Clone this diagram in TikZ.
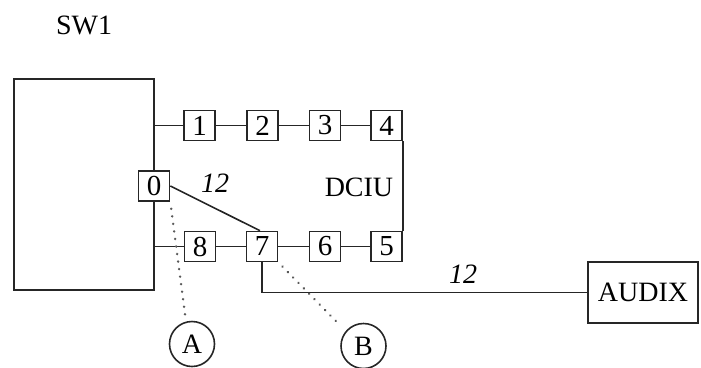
\documentclass[tikz,border=0pt]{standalone}
\usepackage{fontspec}
\setmainfont{Liberation Serif}
\begin{document}
\begin{tikzpicture}[x=1pt,y=-1pt,
  ln/.style={line width=1.6pt, draw=black!85},
  port/.style={ln, draw, fill=white, minimum width=31pt, minimum height=30pt, inner sep=0pt, font=\fontsize{29}{31}\selectfont},
  lbl/.style={font=\fontsize{28}{30}\selectfont, inner sep=0pt},
  dotl/.style={line width=2.6pt, draw=black!65, dash pattern=on 0.1pt off 7.5pt, line cap=round},
  circ/.style={ln, draw, circle, minimum size=45pt, inner sep=0pt, font=\fontsize{28}{30}\selectfont}]
\path[use as bounding box] (0,0) rectangle (701,367);
\node[lbl] (sw1) at (84,25) {SW1};
\node[ln, draw, minimum width=140pt, minimum height=211pt, inner sep=0pt] (sw) at (84,184.5) {};
\node[port] (b1) at (199.5,125.5) {1};
\node[port] (b2) at (262.5,125.5) {2};
\node[port] (b3) at (325,125.5) {3};
\node[port] (b4) at (386.5,125.5) {4};
\node[port] (b0) at (154,186) {0};
\node[port] (b8) at (200,246.5) {8};
\node[port] (b7) at (262,246.5) {7};
\node[port] (b6) at (325,246.5) {6};
\node[port] (b5) at (386.5,246.5) {5};
\node[ln, draw, minimum width=110pt, minimum height=61pt, inner sep=0pt, font=\fontsize{28}{30}\selectfont] (audix) at (643,292.5) {AUDIX};
\node[circ] (A) at (192,344) {A};
\node[circ] (B) at (363.5,346) {B};
\node[lbl] (dciu) at (359,187) {DCIU};
\node[lbl, font=\fontsize{28}{30}\itshape] (l12a) at (215,183) {12};
\node[lbl, font=\fontsize{28}{30}\itshape] (l12b) at (463,274) {12};
\draw[ln] (sw.east |- b1) -- (b1);
\draw[ln] (b1) -- (b2);
\draw[ln] (b2) -- (b3);
\draw[ln] (b3) -- (b4);
\draw[ln] (b4.south east) -- (b5.north east);
\draw[ln] (b5) -- (b6);
\draw[ln] (b6) -- (b7);
\draw[ln] (b7) -- (b8);
\draw[ln] (sw.east |- b8) -- (b8);
\draw[ln] (b0.east) -- ([xshift=-2pt]b7.north);
\draw[ln] (b7.south) |- (audix.west);
\draw[dotl, shorten <=7pt] (b0.south east) -- (A.105);
\draw[dotl, shorten <=6pt, shorten >=9pt] (b7.south east) -- (B.140);
\end{tikzpicture}
\end{document}
